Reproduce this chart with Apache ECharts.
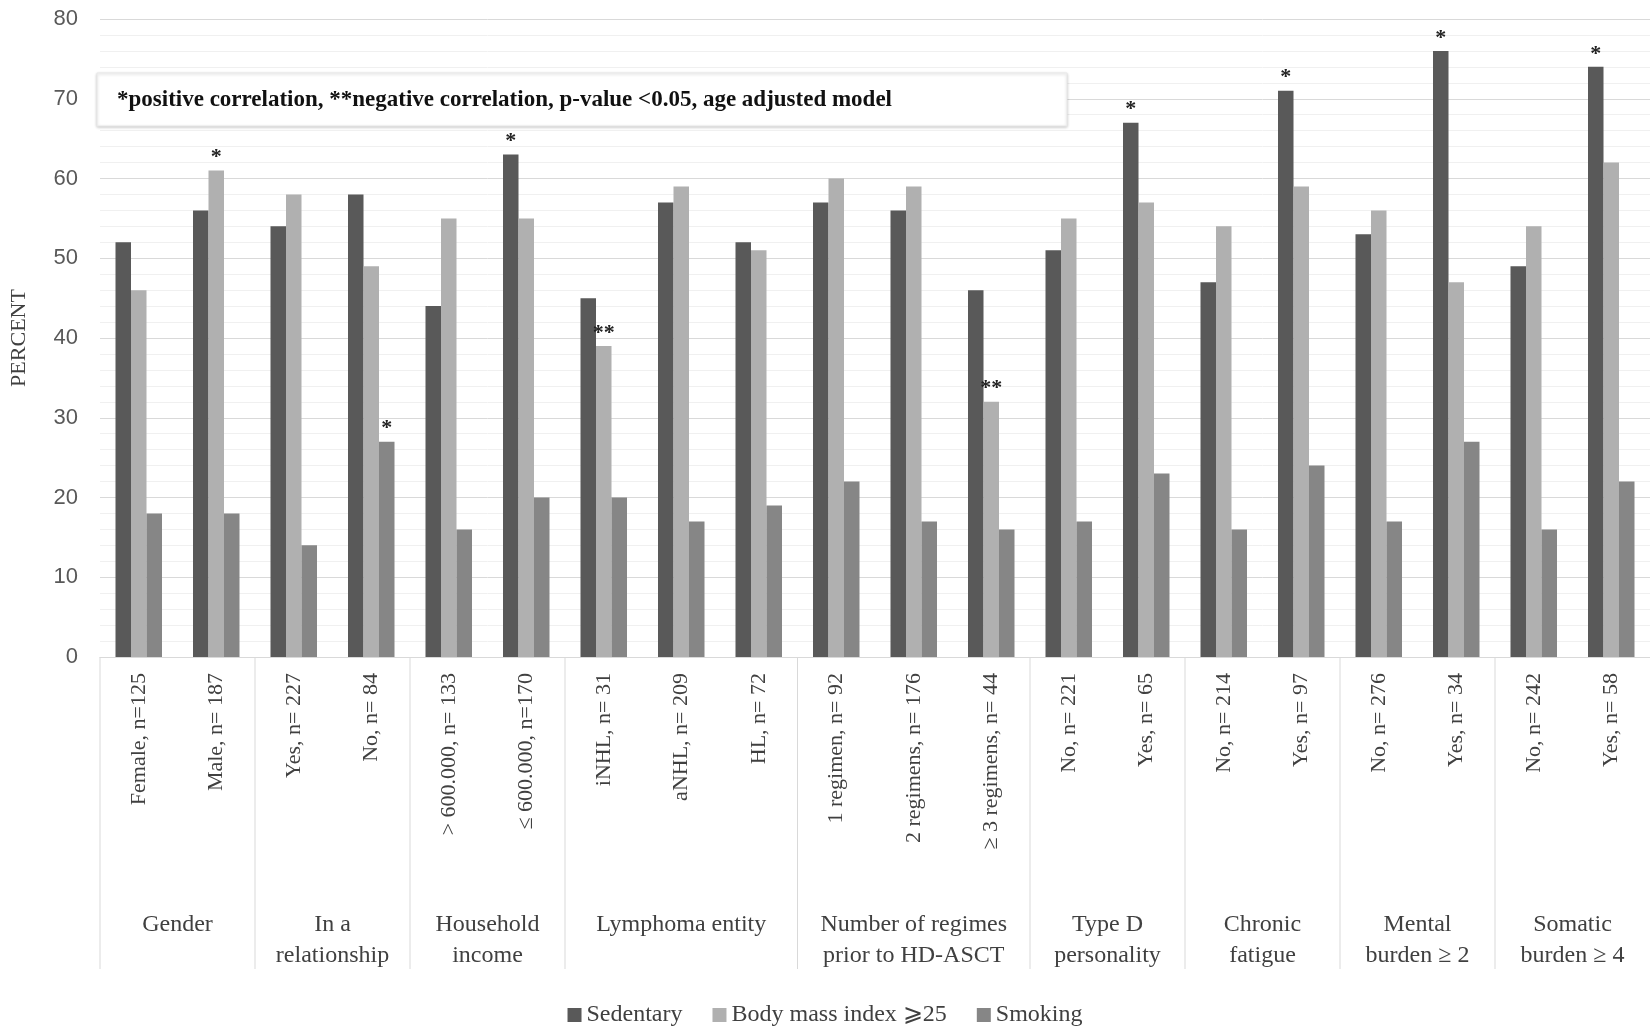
<!DOCTYPE html>
<html><head><meta charset="utf-8">
<script src="https://cdn.jsdelivr.net/npm/echarts@6/dist/echarts.min.js"></script>
<style>html,body{margin:0;padding:0;background:#fff}#c{width:1650px;height:1034px}</style>
</head><body><div id="c"></div>
<script>
const categories = ["Female, n=125","Male, n= 187","Yes, n= 227","No, n= 84","> 600.000, n= 133","≤ 600.000, n=170","iNHL, n= 31","aNHL, n= 209","HL, n= 72","1 regimen, n= 92","2 regimens, n= 176","≥ 3 regimens, n= 44","No, n= 221","Yes, n= 65","No, n= 214","Yes, n= 97","No, n= 276","Yes, n= 34","No, n= 242","Yes, n= 58"];
const groups = ["Gender","In a\nrelationship","Household\nincome","Lymphoma entity","Number of regimes\nprior to HD-ASCT","Type D\npersonality","Chronic\nfatigue","Mental\nburden ≥ 2","Somatic\nburden ≥ 4"];
const groupSizes = [2,2,2,3,3,2,2,2,2];
const sedentary = [52,56,54,58,44,63,45,57,52,57,56,46,51,67,47,71,53,76,49,74];
const bmi = [46,61,58,49,55,55,39,59,51,60,59,32,55,57,54,59,56,47,54,62];
const smoking = [18,18,14,27,16,20,20,17,19,22,17,16,17,23,16,24,17,27,16,22];
const sedMarks = ["","","","","","*","","","","","","","","*","","*","","*","","*"];
const bmiMarks = ["","*","","","","","**","","","","","**","","","","","","","",""];
const smokeMarks = ["","","","*","","","","","","","","","","","","","","","",""];
const note = "*positive correlation, **negative correlation, p-value <0.05, age adjusted model";

const serif = "Liberation Serif";
function withMarks(vals, marks){
  return vals.map((v,i)=>({value:v,label:{show:!!marks[i],formatter:marks[i]}}));
}
const chart = echarts.init(document.getElementById('c'));
const lbl = {position:'top',distance:2,fontFamily:serif,fontSize:22,color:'#222',fontWeight:'bold'};
chart.setOption({
  animation:false,
  textStyle:{fontFamily:serif},
  grid:{left:100,right:0,top:19,bottom:377},
  legend:{bottom:2,left:'center',itemWidth:14,itemHeight:14,itemGap:30,
    textStyle:{fontFamily:serif,fontSize:24,color:'#404040'},icon:'rect'},
  xAxis:{type:'category',data:categories,
    axisLine:{lineStyle:{color:'#d9d9d9'}},axisTick:{show:false},
    axisLabel:{rotate:90,interval:0,fontFamily:serif,fontSize:22,color:'#404040',margin:16}},
  yAxis:{type:'value',min:0,max:80,interval:10,name:'PERCENT',nameLocation:'middle',nameGap:70,
    nameTextStyle:{fontFamily:serif,fontSize:22,color:'#404040'},
    axisLabel:{fontFamily:'Liberation Sans',fontSize:22,color:'#595959',margin:22},
    axisLine:{show:false},axisTick:{show:false},
    splitLine:{lineStyle:{color:'#d9d9d9'}},
    minorTick:{show:false,splitNumber:5},minorSplitLine:{show:true,lineStyle:{color:'#f0f0f0'}}},
  series:[
    {name:'Sedentary',type:'bar',data:withMarks(sedentary,sedMarks),itemStyle:{color:'#595959'},barGap:'0%',barCategoryGap:'40%',label:lbl},
    {name:'Body mass index \u2a7e25',type:'bar',data:withMarks(bmi,bmiMarks),itemStyle:{color:'#b0b0b0'},label:lbl},
    {name:'Smoking',type:'bar',data:withMarks(smoking,smokeMarks),itemStyle:{color:'#868686'},label:lbl}
  ]
});
// group separators and labels, positioned through the axis scale
const els=[];
const y0 = chart.convertToPixel({xAxisIndex:0},categories[0]);
const step = chart.convertToPixel({xAxisIndex:0},categories[1]) - y0;
const axisY = chart.convertToPixel({yAxisIndex:0},0);
let idx=0;
groups.forEach((g,gi)=>{
  const left = y0 - step/2 + idx*step;
  const right = left + groupSizes[gi]*step;
  els.push({type:'line',shape:{x1:left,y1:axisY,x2:left,y2:axisY+312},style:{stroke:'#d9d9d9',lineWidth:1}});
  els.push({type:'text',x:(left+right)/2,y:axisY+252,style:{text:g,fontFamily:serif,fontSize:24,fill:'#404040',align:'center',verticalAlign:'top',lineHeight:31}});
  idx+=groupSizes[gi];
});
els.push({type:'rect',shape:{x:97,y:73,width:970,height:53},style:{fill:'#fff',stroke:'#e8e8e8',shadowBlur:3,shadowColor:'rgba(0,0,0,0.2)',shadowOffsetY:1}});
els.push({type:'text',x:117,y:100,style:{text:note,fontFamily:serif,fontSize:23,fontWeight:'bold',fill:'#111',verticalAlign:'middle'}});
chart.setOption({graphic:els});
</script></body></html>
